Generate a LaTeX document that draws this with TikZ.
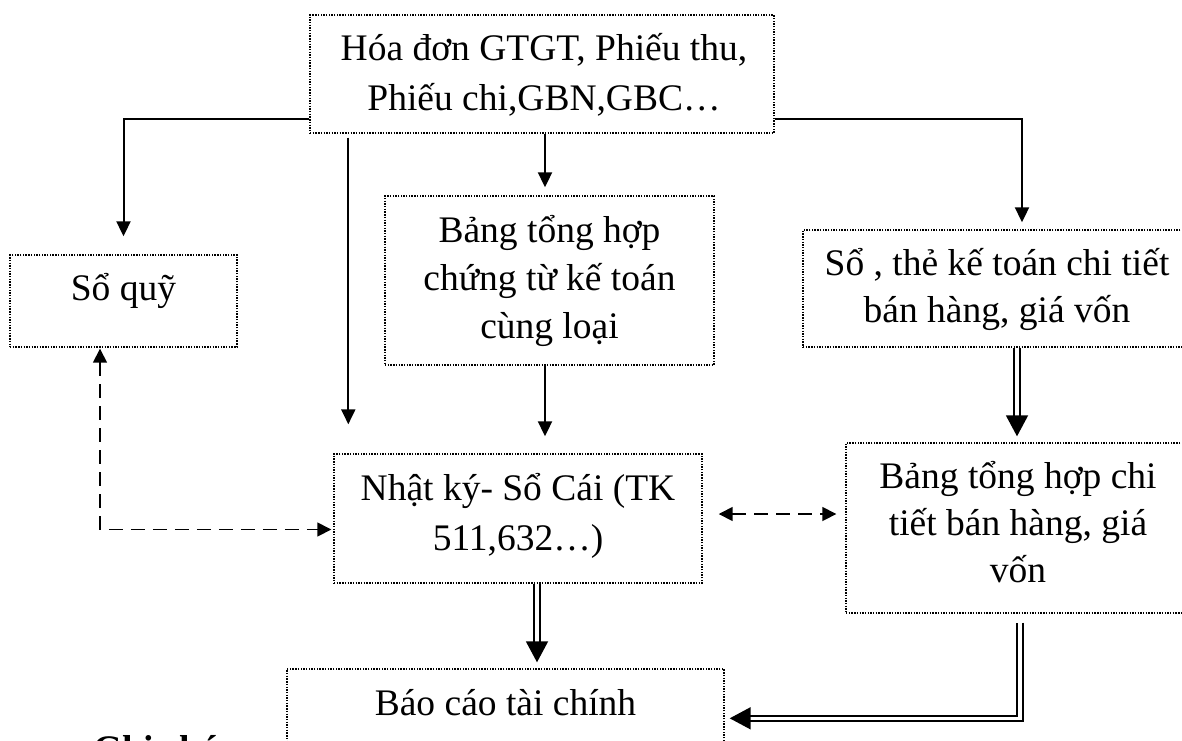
\documentclass[tikz,border=0pt]{standalone}
\usepackage{fontspec}
\setmainfont{Liberation Serif}
\usetikzlibrary{arrows.meta,calc}

\tikzset{
  box/.style={draw, line width=1.4pt, dash pattern=on 1.4pt off 1.3pt,
              rectangle, inner sep=0pt},
  % multi-line texts: the base anchor sits on the last line
  txt/.style={align=center, anchor=base, inner sep=0pt,
              font=\fontsize{37.5}{48}\selectfont},
  arr/.style={line width=2pt, -{Triangle[length=15pt,width=14pt]}},
  dblarr/.style={double, line width=1.8pt, double distance=3.5pt,
                 -{Triangle[length=21pt,width=22pt]}},
  darr/.style={line width=1.6pt, dash pattern=on 14pt off 8pt,
               {Triangle[length=14pt,width=14pt]}-{Triangle[length=14pt,width=14pt]}},
}

\begin{document}
\begin{tikzpicture}[x=1pt,y=-1pt]
\useasboundingbox (0,0) rectangle (1182,740);

% boxes
\node[box, minimum width=464pt, minimum height=118pt] (hd)  at (542,74) {};
\node[box, minimum width=227pt, minimum height=92pt]  (sq)  at (123.5,301) {};
\node[box, minimum width=329pt, minimum height=169pt] (bth) at (549.5,280.5) {};
\node[box, minimum width=388pt, minimum height=117pt] (sct) at (997,288.5) {};
\node[box, minimum width=368pt, minimum height=129pt] (nk)  at (518,518.5) {};
\node[box, minimum width=344pt, minimum height=170pt] (bct) at (1018,528) {};
\node[box, minimum width=437pt, minimum height=121pt] (bc)  at (505.5,729.5) {};

% box texts
\node[txt, font=\fontsize{37.5}{50}\selectfont] (hd-t) at (544,110)
  {Hóa đơn GTGT, Phiếu thu,\\Phiếu chi,GBN,GBC…};
\node[txt] (sq-t)  at (123.5,300) {Sổ quỹ};
\node[txt] (bth-t) at (549.5,338) {Bảng tổng hợp\\chứng từ kế toán\\cùng loại};
\node[txt, font=\fontsize{37.5}{47}\selectfont] (sct-t) at (997,322)
  {Sổ , thẻ kế toán chi tiết\\bán hàng, giá vốn};
\node[txt, font=\fontsize{37.5}{50}\selectfont] (nk-t) at (518,550)
  {Nhật ký- Sổ Cái (TK\\511,632…)};
\node[txt, font=\fontsize{37.5}{47}\selectfont] (bct-t) at (1018,582)
  {Bảng tổng hợp chi\\tiết bán hàng, giá\\vốn};
\node[txt] (bc-t) at (505.5,715) {Báo cáo tài chính};
\node[txt, anchor=base west, font=\fontsize{37.5}{48}\selectfont\bfseries] (note) at (93,761) {Ghi chú:};

% solid connectors
\draw[arr] ($(hd.south west)+(0,-15)$) -| ([yshift=18pt]sq.north);
\draw[arr, shorten <=4pt, shorten >=29pt]
  ([xshift=39pt]hd.south west) -- ([xshift=39pt]hd.south west |- nk.north);
\draw[arr, shorten >=8pt] ([xshift=3pt]hd.south) -- ([xshift=3pt]hd.south |- bth.north);
\draw[arr, shorten >=17pt] ([xshift=-4.5pt]bth.south) -- ([xshift=-4.5pt]bth.south |- nk.north);
\draw[arr] ($(hd.south east)+(0,-15)$) -| ([xshift=25pt,yshift=7pt]sct.north);

% double connectors
\draw[dblarr, shorten >=6pt] ([xshift=-1pt]bct.north |- sct.south) -- ([xshift=-1pt]bct.north);
\draw[dblarr, shorten >=6pt] ([xshift=19pt]nk.south) -- ([xshift=19pt]nk.south |- bc.north);
\draw[dblarr, shorten <=9pt, shorten >=5pt]
  ([xshift=2pt]bct.south) |- ([yshift=-50pt]bc.north east);

% dashed connectors
\draw[darr, shorten <=1pt, shorten >=2pt]
  ([xshift=-23.5pt]sq.south) |- ([yshift=-11pt]nk.west);
\draw[darr, shorten <=16pt, shorten >=9pt]
  ([yshift=4.5pt]nk.east) -- ([yshift=4.5pt]nk.east -| bct.west);
\end{tikzpicture}
\end{document}
